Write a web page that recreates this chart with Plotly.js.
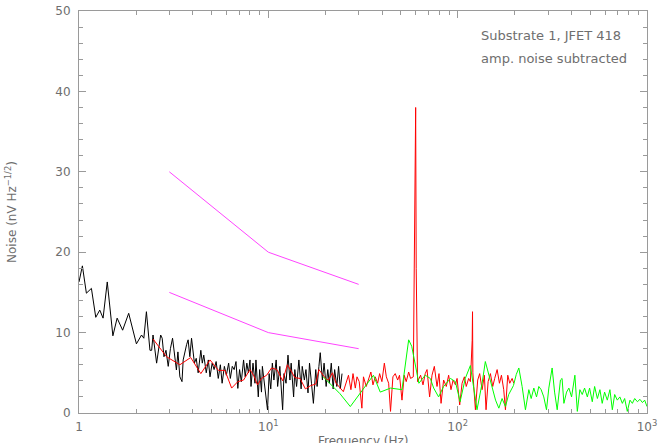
<!DOCTYPE html>
<html>
<head>
<meta charset="utf-8">
<script src="https://cdn.plot.ly/plotly-3.0.1.min.js"></script>
<style>html,body{margin:0;padding:0;background:#fff;}#chart{width:658px;height:443px;}</style>
</head>
<body>
<div id="chart"></div>
<script>
// ---- data ----
const blackF = [1.0,1.042,1.094,1.163,1.226,1.287,1.34,1.41,1.51,1.59,1.70,1.83,2.01,2.14,2.20,2.27,2.37,2.42,2.46,2.57,2.7,2.75,2.81,2.88,2.96,3.04,3.12,3.27,3.33,3.41,3.5,3.55,3.7,3.77,3.85,3.93,4.07,4.16,4.26,4.4,4.48,4.56,4.7,4.82,4.92,5.05,5.17,5.3,5.44,5.58,5.7,5.86,6.0,6.17,6.3,6.45,6.6,6.75,6.9,7.05,7.2,7.4,7.55,7.7,7.85,8.0,8.1,8.3,8.5,8.6,8.85,9.0,9.2,9.3,9.9,10.1,10.3,10.5,10.7,11.0,11.2,11.5,11.9,12.1,12.4,12.7,13.0,13.2,13.6,13.8,14.1,14.5,14.9,15.1,15.5,15.8,16.2,16.5,16.9,17.3,17.8,18.1,18.5,18.8,19.3,19.7,20.2,20.6,21.0,21.5,22.0,22.4,23.0,23.5,24.0,24.5];
const blackV = [16.3,18.3,14.9,15.5,11.9,12.8,11.8,16.3,9.6,11.8,10.3,12.4,8.6,9.7,9.3,12.6,7.8,7.8,9.7,6.2,9.7,9.3,7.0,7.8,5.8,8.0,9.3,5.35,7.6,4.5,3.9,6.6,8.5,9.1,7.0,9.3,6.2,6.8,5.0,7.8,6.2,7.2,5.0,6.6,4.5,6.2,5.4,6.4,4.3,6.0,3.7,5.8,4.7,6.2,4.3,5.8,5.4,6.4,3.06,5.4,3.9,6.6,4.5,6.2,5.0,6.6,3.3,6.2,3.7,6.6,2.0,5.4,2.6,5.8,0.38,4.9,3.0,6.2,4.1,6.6,3.3,5.8,0.4,4.9,3.7,7.2,4.1,6.2,2.0,5.4,3.3,6.6,3.0,5.8,4.1,5.4,2.5,6.2,3.7,1.2,5.4,3.3,5.8,7.5,4.1,6.2,3.3,5.4,3.7,6.2,3.0,5.4,3.3,5.8,3.0,4.9];

const redF = [2.46,2.9,3.41,3.89,4.4,4.92,5.45,5.9,6.4,6.9,7.4,8.0,8.4,8.76,9.2,9.8,10.4,11.1,11.9,12.6,13.3,13.8,14.7,15.7,16.7,17.8,18.5,19.4,20.2,20.8,21.8,22.8,23.9,24.9,26.5,27.3,28.0,28.8,29.4,30.2,31.2,31.8,32.9,33.8,34.8,35.7,36.7,37.8,38.7,39.8,41.0,42.0,43.2,44.2,45.5,46.8,48.2,49.3,50.8,52.2,53.5,55.1,56.4,58.3,59.6,60.0,60.4,61.4,63.7,65.6,67.4,68.9,71.1,73.2,75.3,77.8,79.7,81.7,84.3,87.1,89.6,92.2,94.6,97.3,99.3,102.5,105.5,108.5,111,114.3,116.7,119.3,119.8,120.3,121.6,124.1,127.6,130.7,134.6,138.4,141.2,144.8,148.9,153.2,156.9,161.6,166.2,170.3,175.1,178.8,183.9,188.4,193.9,197.8];
const redV = [9.2,7.0,6.0,6.9,4.9,6.6,5.3,5.3,3.1,3.9,4.1,5.4,4.6,3.5,4.3,4.7,5.6,5.4,4.0,6.0,5.1,4.4,4.3,3.0,3.4,3.6,5.4,4.7,4.2,4.1,5.0,3.7,3.1,2.65,4.7,2.9,4.9,3.1,4.5,3.9,0.6,4.5,3.3,4.3,5.1,3.5,4.5,3.7,4.9,3.9,6.2,4.5,3.7,0.2,4.5,4.9,4.1,4.7,1.6,4.7,3.9,5.1,4.3,4.5,24,38,18,3.9,4.7,3.5,4.9,5.4,2.0,4.7,5.8,3.3,4.9,1.2,4.1,3.3,4.7,2.9,4.1,3.5,4.3,1.0,3.7,4.5,3.3,4.3,3.9,9,12.6,5,3.3,0.4,4.1,4.9,2.9,4.7,0.4,3.9,4.9,3.3,4.3,5.4,3.7,4.7,2.9,0.4,4.7,3.7,4.3,3.7];

const greenF = [19.5,23.9,27.1,35.9,39.0,44.2,50.8,55.1,57.2,62.4,67.4,71.7,74.7,79.3,84.3,91.6,97.3,103,109.7,116.7,126.5,134.6,140,146,151.7,158.5,165,171.6,178.8,186,197,204,210.4,219,228,237.6,244.5,252.5,260.9,268.3,276,285,294.5,303,315.5,325,335.5,349,356,364,376,386.7,399.7,416,428.5,442,455,468,484,497.5,514,528.8,547,564,580,597,617,637,656,675,697,719,741,762,787,813,837,861,890,918,946,972,1000];
const greenV = [4.5,2.4,0.8,4.7,2.6,3.1,2.9,9.1,8.3,3.7,4.7,4.3,3.1,2.0,3.3,4.3,3.9,1.4,4.3,5.9,0.4,3.7,6.4,4.7,3.3,1.6,0.6,1.8,0.8,2.3,3.4,4.8,5.6,3.3,0.4,2.9,1.8,3.1,2.0,3.3,2.9,2.0,0.4,3.1,5.6,2.6,0.4,4.1,4.3,1.2,2.6,3.1,2.0,4.7,0.2,2.9,2.3,3.1,2.0,3.1,1.4,3.3,1.8,2.9,1.2,2.6,1.6,2.9,0.4,2.3,1.6,2.0,1.2,1.8,0.2,1.6,1.2,1.8,1.4,1.7,1.3,1.6,0.8];

const limitF = [3, 10, 30];
const limitHigh = [30, 20, 16];
const limitLow = [15, 10, 8];

const xTickVals = [1, 10, 100, 1000];
const xTickText = ['1', '10<sup>1</sup>', '10<sup>2</sup>', '10<sup>3</sup>'];
const xMinorVals = [2,3,4,5,6,7,8,9,20,30,40,50,60,70,80,90,200,300,400,500,600,700,800,900];

const xTitle = 'Frequency (Hz)';
const yTitle = 'Noise (nV Hz<sup>\u22121/2</sup>)';
const noteLines = ['Substrate 1, JFET 418', 'amp. noise subtracted'];

// ---- chart ----
const axisGray = '#9a9a9a';
const textGray = '#6e6e6e';

const traces = [
  {x: blackF, y: blackV, mode: 'lines', line: {color: '#000000', width: 1}, hoverinfo: 'skip'},
  {x: redF, y: redV, mode: 'lines', line: {color: '#ff0000', width: 1}, hoverinfo: 'skip'},
  {x: greenF, y: greenV, mode: 'lines', line: {color: '#00ff00', width: 1}, hoverinfo: 'skip'},
  {x: limitF, y: limitHigh, mode: 'lines', line: {color: '#ff44ff', width: 1}, hoverinfo: 'skip'},
  {x: limitF, y: limitLow, mode: 'lines', line: {color: '#ff44ff', width: 1}, hoverinfo: 'skip'}
];

const layout = {
  width: 658, height: 443,
  margin: {l: 79, r: 11, t: 11, b: 30},
  paper_bgcolor: '#ffffff', plot_bgcolor: '#ffffff',
  showlegend: false,
  font: {family: 'DejaVu Sans, sans-serif', size: 12, color: textGray},
  xaxis: {
    type: 'log', range: [0, 3],
    tickmode: 'array', tickvals: xTickVals, ticktext: xTickText,
    ticks: 'inside', ticklen: 7, tickwidth: 1, tickcolor: axisGray,
    ticklabelstandoff: 3,
    showline: true, linecolor: axisGray, linewidth: 1, mirror: 'ticks',
    showgrid: false, zeroline: false,
    minor: {tickmode: 'array', tickvals: xMinorVals, ticks: 'inside', ticklen: 4, tickcolor: axisGray, showgrid: false},
    tickfont: {size: 12, color: textGray}
  },
  yaxis: {
    range: [0, 50], tickmode: 'linear', tick0: 0, dtick: 10,
    ticks: 'inside', ticklen: 7, tickwidth: 1, tickcolor: axisGray,
    ticklabelstandoff: 5,
    showline: true, linecolor: axisGray, linewidth: 1, mirror: 'ticks',
    showgrid: false, zeroline: false,
    minor: {dtick: 2, ticks: 'inside', ticklen: 4, tickcolor: axisGray, showgrid: false},
    title: {text: yTitle, standoff: 36, font: {size: 12, color: textGray}},
    tickfont: {size: 12, color: textGray}
  },
  annotations: [
    {xref: 'paper', yref: 'paper', x: 0.5, y: 0, yshift: -19, xanchor: 'center', yanchor: 'top', text: xTitle, showarrow: false, font: {size: 12, color: textGray}},
    {xref: 'paper', yref: 'paper', x: 0.704, y: 0.940, xanchor: 'left', yanchor: 'middle', text: noteLines[0], showarrow: false, font: {size: 13, color: textGray}},
    {xref: 'paper', yref: 'paper', x: 0.704, y: 0.883, xanchor: 'left', yanchor: 'middle', text: noteLines[1], showarrow: false, font: {size: 13, color: textGray}}
  ]
};

Plotly.newPlot('chart', traces, layout, {staticPlot: true, displayModeBar: false});
</script>
</body>
</html>
